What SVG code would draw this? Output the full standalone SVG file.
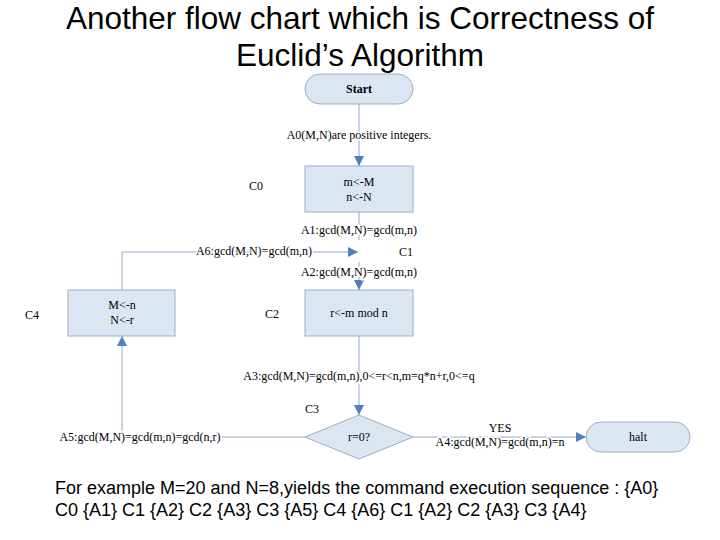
<svg xmlns="http://www.w3.org/2000/svg" width="720" height="540" viewBox="0 0 720 540">
<style>
.n{fill:#dce6f2;stroke:#9aaecb;stroke-width:1}
.t{font-family:"Liberation Serif",serif;font-size:12px;fill:#000;text-anchor:middle}
.l{font-family:"Liberation Serif",serif;font-size:12px;fill:#000}
.c{stroke:#8eaad0;stroke-width:1;fill:none}
.h{font-family:"Liberation Sans",Arial,sans-serif;font-size:31.5px;fill:#000;text-anchor:middle}
.b{font-family:"Liberation Sans",Arial,sans-serif;font-size:18px;fill:#000}
.w{paint-order:stroke;stroke:#fff;stroke-width:3}
</style>
<defs><marker id="a" viewBox="0 0 10 10" refX="10" refY="5" markerWidth="10" markerHeight="10" markerUnits="userSpaceOnUse" orient="auto"><path d="M0,0L10,5L0,10z" fill="#4f7fbf"/></marker></defs>
<rect width="720" height="540" fill="#fff"/>
<text class="h" x="360" y="29">Another flow chart which is Correctness of</text>
<text class="h" x="360" y="66">Euclid’s Algorithm</text>
<g id="connectors">
<path class="c" d="M359,104V166" marker-end="url(#a)"/>
<path class="c" d="M359,212V240"/>
<path class="c" d="M122,290V252H358" marker-end="url(#a)"/>
<path class="c" d="M359,262V290" marker-end="url(#a)"/>
<path class="c" d="M359,336V415" marker-end="url(#a)"/>
<path class="c" d="M305,437H122V336" marker-end="url(#a)"/>
<path class="c" d="M413,437H586" marker-end="url(#a)"/>
</g>
<g id="labels">
<text class="t w" x="359" y="139">A0(M,N)are positive integers.</text>
<text class="t w" x="359" y="234">A1:gcd(M,N)=gcd(m,n)</text>
<text class="t w" x="254" y="255">A6:gcd(M,N)=gcd(m,n)</text>
<text class="t w" x="359" y="276">A2:gcd(M,N)=gcd(m,n)</text>
<text class="t w" x="359" y="380">A3:gcd(M,N)=gcd(m,n),0&lt;=r&lt;n,m=q*n+r,0&lt;=q</text>
<text class="t w" x="140" y="441">A5:gcd(M,N)=gcd(m,n)=gcd(n,r)</text>
<text class="t" x="500" y="432">YES</text>
<text class="t w" x="500" y="446">A4:gcd(M,N)=gcd(m,n)=n</text>
<text class="l" x="249" y="190">C0</text>
<text class="l" x="399" y="256">C1</text>
<text class="l" x="265" y="318">C2</text>
<text class="l" x="25" y="319">C4</text>
<text class="l" x="305" y="413">C3</text>
</g>
<g id="start"><rect class="n" x="305" y="74" width="108" height="30" rx="15"/><text class="t" x="359" y="93" font-weight="bold" font-size="11">Start</text></g>
<g id="init"><rect class="n" x="305" y="166" width="108" height="46"/><text class="t" x="359" y="186">m&lt;-M</text><text class="t" x="359" y="201">n&lt;-N</text></g>
<g id="mod"><rect class="n" x="305" y="290" width="108" height="46"/><text class="t" x="359" y="317">r&lt;-m mod n</text></g>
<g id="swap"><rect class="n" x="68" y="290" width="107" height="46"/><text class="t" x="122" y="309">M&lt;-n</text><text class="t" x="122" y="324">N&lt;-r</text></g>
<g id="test"><polygon class="n" points="359,415 413,437 359,459 305,437"/><text class="t" x="359" y="441">r=0?</text></g>
<g id="halt"><rect class="n" x="586" y="422" width="104" height="30" rx="15"/><text class="t" x="638" y="441">halt</text></g>
<text class="b" x="55" y="494">For example M=20 and N=8,yields the command execution sequence : {A0}</text>
<text class="b" x="55" y="516">C0 {A1} C1 {A2} C2 {A3} C3 {A5} C4 {A6} C1 {A2} C2 {A3} C3 {A4}</text>
</svg>
